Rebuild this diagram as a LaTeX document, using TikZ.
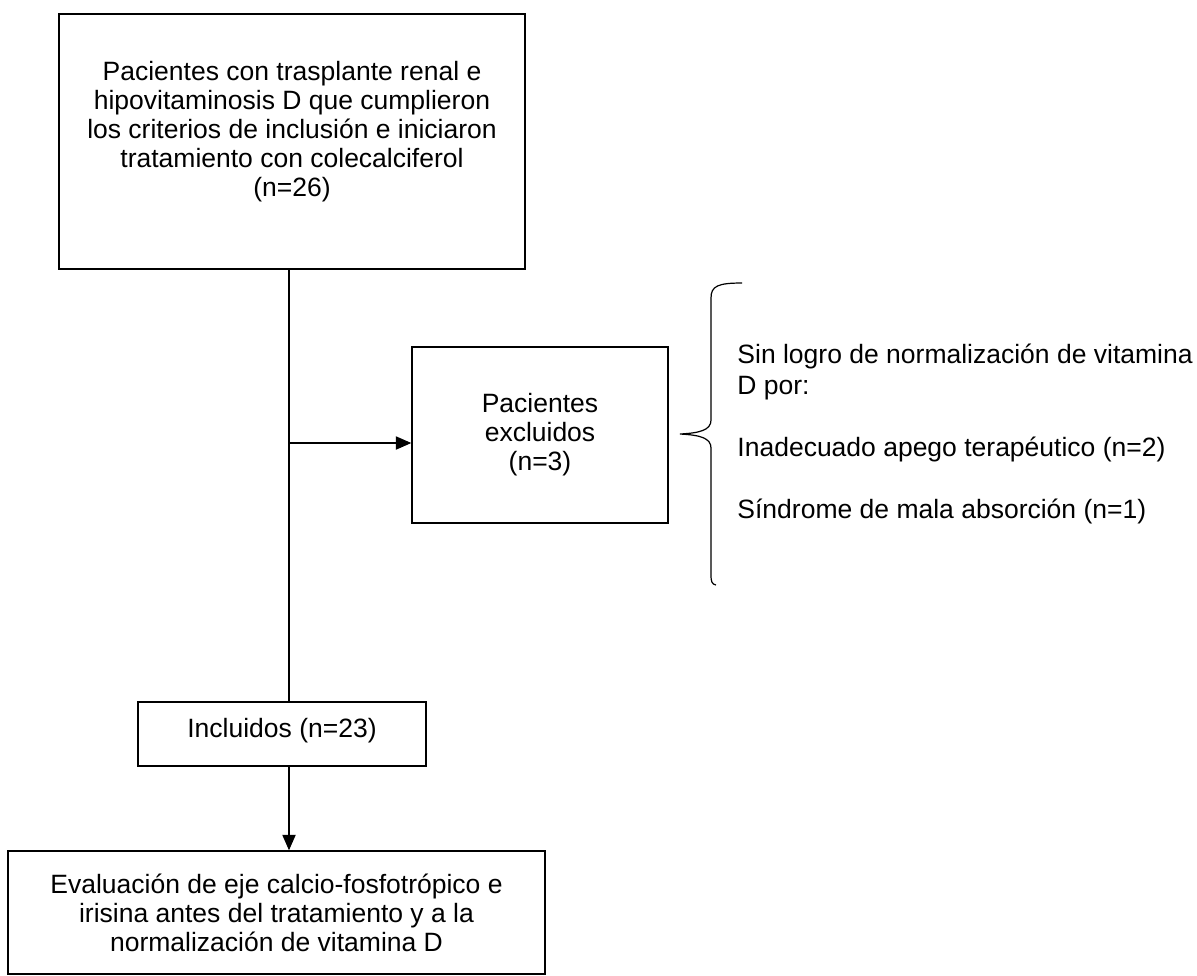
\documentclass[tikz,border=0pt]{standalone}
\usepackage{fontspec}
\setmainfont{Liberation Sans}
\usetikzlibrary{arrows.meta}
\begin{document}
\begin{tikzpicture}[x=0.4528pt,y=-0.4528pt,
    caja/.style={draw,line width=0.65pt,align=center,inner sep=0pt,
      font=\fontsize{12}{13.1}\selectfont},
    flecha/.style={line width=0.55pt,-{Triangle[length=7pt,width=6pt]}}]
  \useasboundingbox (0,0) rectangle (1197,975);
  \node[caja,minimum width=211pt,minimum height=115.5pt,text depth=11.5pt] (inicio) at (292,141.5)
    {Pacientes con trasplante renal e\\
     hipovitaminosis D que cumplieron\\
     los criterios de inclusión e iniciaron\\
     tratamiento con colecalciferol\\
     (n=26)};
  \node[caja,minimum width=115.9pt,minimum height=79.7pt] (excluidos) at (540,435)
    {Pacientes\\ excluidos\\ (n=3)};
  \node[caja,minimum width=130.4pt,minimum height=29pt,text depth=6pt] (incluidos) at (282,734)
    {Incluidos (n=23)};
  \node[caja,minimum width=243.2pt,minimum height=55.7pt] (evaluacion) at (276.5,912.5)
    {Evaluación de eje calcio-fosfotrópico e\\
     irisina antes del tratamiento y a la\\
     normalización de vitamina D};
  \node[anchor=base west,align=left,inner sep=0pt,
    font=\fontsize{12}{14}\selectfont] (motivos) at (737,518)
    {Sin logro de normalización de vitamina\\
     D por:\\[14pt]
     Inadecuado apego terapéutico (n=2)\\[14pt]
     Síndrome de mala absorción (n=1)};
  \coordinate (eje) at (289,443);
  % llave
  \draw[line width=0.55pt] (742,283) .. controls (718,283) and (711,286) .. (711,298)
    -- (711,420) .. controls (711,430) and (700,433) .. (680,434)
    .. controls (700,435) and (711,438) .. (711,448)
    -- (711,575) .. controls (711,582) and (712,584) .. (716,585);
  \begin{scope}[line width=0.55pt]
    \draw (inicio.south -| eje) -- (incluidos.north -| eje);
    \draw[flecha] (eje) -- (eje -| excluidos.west);
    \draw[flecha] (incluidos.south -| eje) -- (evaluacion.north -| eje);
  \end{scope}
\end{tikzpicture}
\end{document}
